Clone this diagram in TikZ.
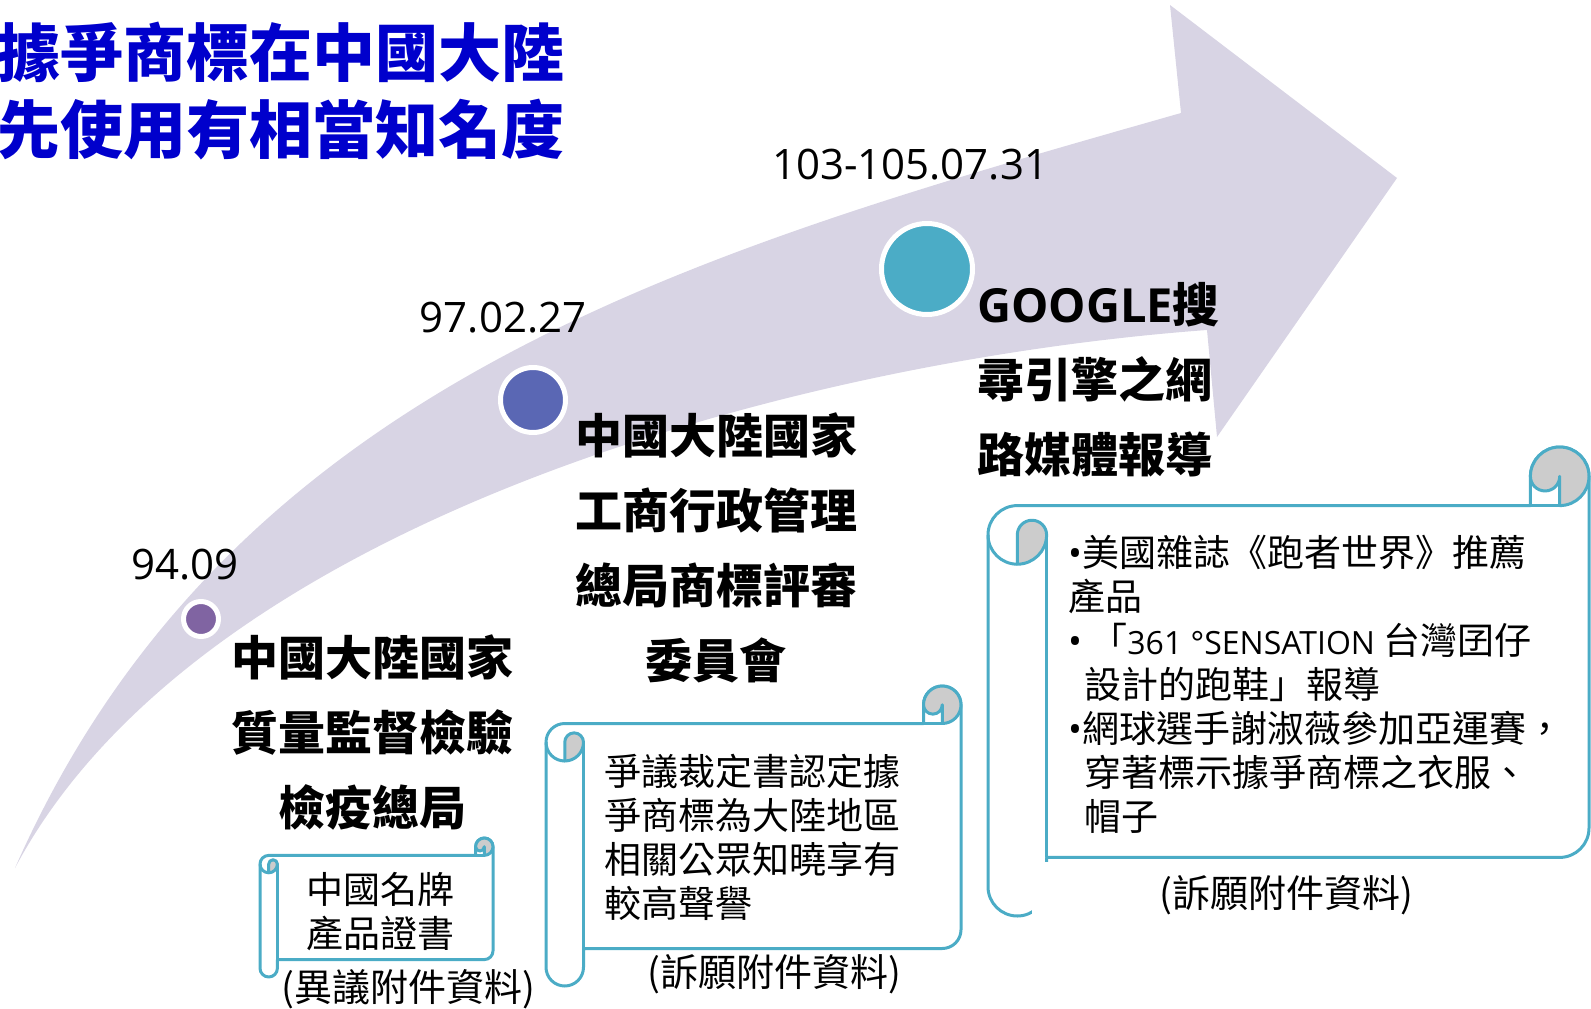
\documentclass[tikz,border=0pt]{standalone}
\usepackage{fontspec}
\setmainfont{Noto Sans CJK TC}
\newfontfamily\latinfont{Open Sans}
\usepackage{xcolor}
\definecolor{bandlav}{RGB}{216,212,228}
\definecolor{titleblue}{RGB}{0,0,204}
\definecolor{dotpurple}{RGB}{128,100,162}
\definecolor{dotblue}{RGB}{90,103,180}
\definecolor{dotteal}{RGB}{75,172,198}
\definecolor{scrollteal}{RGB}{75,172,198}
\definecolor{scrollgray}{RGB}{204,204,204}

% scroll: left, top, width, height, curl size
\newcommand{\drawscroll}[5]{%
  \begin{scope}[shift={(#1,#2)}]
    \pgfmathsetmacro{\cw}{#5}
    \pgfmathsetmacro{\cwh}{#5/2}
    \pgfmathsetmacro{\cwq}{#5/4}
    \pgfmathsetmacro{\xa}{#3-#5}
    \pgfmathsetmacro{\xb}{#3-#5/2}
    \pgfmathsetmacro{\ya}{1.5*#5}
    \pgfmathsetmacro{\yb}{2*#5}
    \pgfmathsetmacro{\yc}{#4-1.5*#5}
    \pgfmathsetmacro{\yd}{#4-#5}
    \pgfmathsetmacro{\ye}{#4-#5/2}
    \filldraw[scrollbox] (0,\ya) arc[start angle=180, end angle=270, radius=\cwh]
      -- (\xa,\cw) -- (\xa,\cwh) arc[start angle=180, end angle=360, radius=\cwh]
      -- (#3,\yc) arc[start angle=0, end angle=90, radius=\cwh]
      -- (\cw,\yd) -- (\cw,\ye) arc[start angle=0, end angle=180, radius=\cwh] -- cycle;
    \filldraw[scrollcurl] (\cwh,\yb) arc[start angle=90, end angle=0, radius=\cwh]
      arc[start angle=0, end angle=-180, radius=\cwq] -- cycle;
    \filldraw[scrollcurl] (\xb,\cw) arc[start angle=90, end angle=-180, radius=\cwh]
      arc[start angle=180, end angle=0, radius=\cwq] -- cycle;
    \draw[scrollline] (\xa,\cw) -- (\xb,\cw);
    \draw[scrollline] (\cwh,\yb) arc[start angle=90, end angle=180, radius=\cwh];
    \draw[scrollline] (\cw,\ya) -- (\cw,\yd);
  \end{scope}}

\begin{document}
\begin{tikzpicture}[x=1pt, y=-1pt]
    \tikzset{dot/.style = {shape=circle, draw=white, line width=5pt, inner sep=0pt}}
    \tikzset{datelabel/.style = {font=\latinfont\fontsize{42}{50}\selectfont, inner sep=0pt}}
    \tikzset{event/.style = {font=\bfseries\fontsize{47}{75}\selectfont, inner sep=0pt}}
    \tikzset{scrolltext/.style = {font=\fontsize{37}{44}\selectfont, inner sep=0pt, align=left}}
    \tikzset{source/.style = {font=\fontsize{38}{46}\selectfont, inner sep=0pt}}
    \tikzset{scrollline/.style = {draw=scrollteal, line width=3pt, line join=round}}
    \tikzset{scrollbox/.style = {scrollline, fill=white}}
    \tikzset{scrollcurl/.style = {scrollline, fill=scrollgray}}

    \useasboundingbox (0,0) rectangle (1591,1009);

    % curved arrow
    \fill[bandlav] (15,868) .. controls (230,380) and (700,250) .. (1181,113)
      -- (1170,5) -- (1397,178) -- (1217,437) -- (1207,330)
      .. controls (800,360) and (200,520) .. (15,868) -- cycle;

    % title
    \node[anchor=west, inner sep=0pt, text=titleblue, align=left,
      font=\bfseries\fontsize{63}{77}\selectfont] (title) at (-3,91)
      {據爭商標在中國大陸\\先使用有相當知名度};

    % dots
    \node[dot, fill=dotpurple, minimum size=35pt] (d1) at (201,619) {};
    \node[dot, fill=dotblue, minimum size=65pt] (d2) at (533,400) {};
    \node[dot, fill=dotteal, minimum size=91pt] (d3) at (927,269) {};

    % dates
    \node[datelabel] (t1) at (185,565) {94.09};
    \node[datelabel] (t2) at (503,318) {97.02.27};
    \node[datelabel] (t3) at (910,165) {103-105.07.31};

    % events
    \node[event, align=center] (e1) at (372,732) {中國大陸國家\\質量監督檢驗\\檢疫總局};
    \node[event, align=center] (e2) at (716,548) {中國大陸國家\\工商行政管理\\總局商標評審\\委員會};
    \node[event, align=left, anchor=west] (e3) at (977,380) {{\latinfont GOOGLE}搜\\尋引擎之網\\路媒體報導};

    % scrolls
    \drawscroll{260}{838}{233}{139}{17.4}
    \drawscroll{546}{686}{415}{300}{37.5}
    \drawscroll{988}{447}{601}{469}{58.6}

    % scroll texts
    \node[scrolltext, align=center] (s1) at (380,912) {中國名牌\\產品證書};
    \node[scrolltext, anchor=west] (s2) at (604,837) {爭議裁定書認定據\\爭商標為大陸地區\\相關公眾知曉享有\\較高聲譽};
    \node[scrolltext, anchor=west] (s3) at (1068,684) {{\latinfont •}美國雜誌《跑者世界》推薦\\產品\\{\latinfont •} 「{\latinfont\fontsize{32}{44}\selectfont 361 °SENSATION} 台灣囝仔\\\hspace*{16pt}設計的跑鞋」報導\\{\latinfont •}網球選手謝淑薇參加亞運賽，\\\hspace*{16pt}穿著標示據爭商標之衣服、\\\hspace*{16pt}帽子};

    % sources
    \node[source] (c1) at (408,989) {(異議附件資料)};
    \node[source] (c2) at (774,974) {(訴願附件資料)};
    \node[source, fill=white, minimum width=508pt, minimum height=66pt] (c3) at (1286,895) {(訴願附件資料)};
\end{tikzpicture}
\end{document}
